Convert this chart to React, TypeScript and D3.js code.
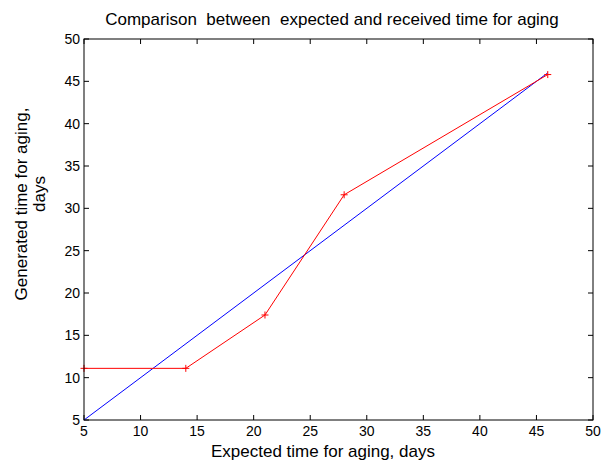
import React from 'react';
import {scaleLinear, line, range} from 'd3';

const expectedDays = [5, 14, 21, 28, 46];
const generatedDays = [11.1, 11.1, 17.4, 31.6, 45.8];
const idealX = [5, 46];
const idealY = [5, 46];
const xTicks = range(5, 51, 5);
const yTicks = range(5, 51, 5);

const W = 612;
const H = 463;
const left = 84;
const right = 593;
const top = 39;
const bottom = 420;

const App = () => {
  const xScale = scaleLinear().domain([5, 50]).range([left, right]);
  const yScale = scaleLinear().domain([5, 50]).range([bottom, top]);

  const mkLine = line<[number, number]>()
    .x(d => xScale(d[0]))
    .y(d => yScale(d[1]));

  const redPts: [number, number][] = expectedDays.map((x, i) => [x, generatedDays[i]]);
  const bluePts: [number, number][] = idealX.map((x, i) => [x, idealY[i]]);
  const font = 'Liberation Sans, Arial, sans-serif';
  const tickLen = 5;
  const yLabelMid = 204;

  return (
    <svg width={W} height={H} style={{position: 'absolute', left: 0, top: 0, background: '#fff'}}
      fontFamily={font}>
      <rect x={0} y={0} width={W} height={H} fill='#fff'/>
      <text x={332} y={25} textAnchor='middle' fontSize={17} style={{whiteSpace: 'pre'}}>
        {'Comparison  between  expected and received time for aging'}
      </text>

      {/* ticks, drawn inward on all four sides */}
      {xTicks.map(t => (
        <g key={'x' + t}>
          <line x1={xScale(t)} x2={xScale(t)} y1={bottom} y2={bottom - tickLen} stroke='#000'/>
          <line x1={xScale(t)} x2={xScale(t)} y1={top} y2={top + tickLen} stroke='#000'/>
          <text x={xScale(t)} y={bottom + 16} textAnchor='middle' fontSize={14}>{t}</text>
        </g>
      ))}
      {yTicks.map(t => (
        <g key={'y' + t}>
          <line x1={left} x2={left + tickLen} y1={yScale(t)} y2={yScale(t)} stroke='#000'/>
          <line x1={right} x2={right - tickLen} y1={yScale(t)} y2={yScale(t)} stroke='#000'/>
          <text x={left - 4} y={yScale(t) + 5} textAnchor='end' fontSize={14}>{t}</text>
        </g>
      ))}

      <path d={mkLine(bluePts) || ''} fill='none' stroke='#0000ff' strokeWidth={1}/>
      <path d={mkLine(redPts) || ''} fill='none' stroke='#ff0000' strokeWidth={1}/>
      {redPts.map((d, i) => (
        <g key={'m' + i} stroke='#ff0000' strokeWidth={1}>
          <line x1={xScale(d[0]) - 3.5} x2={xScale(d[0]) + 3.5} y1={yScale(d[1])} y2={yScale(d[1])}/>
          <line x1={xScale(d[0])} x2={xScale(d[0])} y1={yScale(d[1]) - 3.5} y2={yScale(d[1]) + 3.5}/>
        </g>
      ))}

      <rect x={left} y={top} width={right - left} height={bottom - top} fill='none' stroke='#000' strokeWidth={1}/>

      <text x={323} y={457} textAnchor='middle' fontSize={17}>
        Expected time for aging, days
      </text>
      <text transform={`translate(27, ${yLabelMid}) rotate(-90)`} textAnchor='middle' fontSize={17}>
        Generated time for aging,
      </text>
      <text transform={`translate(45, ${yLabelMid - 10}) rotate(-90)`} textAnchor='middle' fontSize={17}>
        days
      </text>
    </svg>
  );
};

export default App;
